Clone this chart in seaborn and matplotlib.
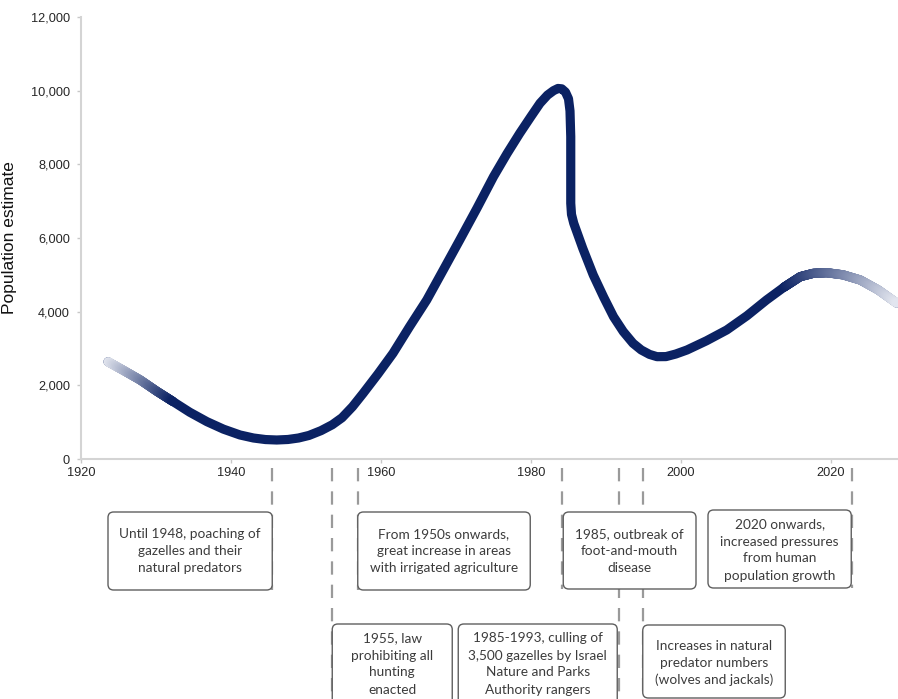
import numpy as np
import matplotlib
matplotlib.use("Agg")
import matplotlib.pyplot as plt
from matplotlib.collections import LineCollection
from matplotlib.colors import to_rgb
from matplotlib.patches import FancyBboxPatch
from matplotlib.ticker import FuncFormatter
import seaborn as sns

# ─── data ─────────────────────────────────────────────────────────────────────
years = [1923.6, 1925.8, 1927.9, 1930.1, 1932.3, 1934.5, 1936.8, 1939.0,
         1941.2, 1943.0, 1944.6, 1946.1, 1947.6, 1949.0, 1950.4, 1952.0,
         1953.5, 1954.8, 1956.2, 1957.6, 1959.6, 1961.6, 1963.8, 1966.1,
         1968.3, 1970.5, 1972.8, 1975.0, 1976.8, 1978.5, 1980.0, 1981.2,
         1982.2, 1983.0, 1983.6, 1984.1, 1984.6, 1985.0, 1985.2, 1985.3,
         1985.3, 1985.4, 1985.7, 1986.9, 1988.3, 1989.7, 1991.0, 1992.3,
         1993.6, 1994.7, 1995.8, 1996.8, 1998.0, 1999.3, 2000.8, 2003.4,
         2006.1, 2008.8, 2011.4, 2013.7, 2015.9, 2017.6, 2019.4, 2021.6,
         2023.9, 2026.3, 2028.8]
population = [2640, 2390, 2145, 1840, 1556, 1270, 1013, 810,
              652, 570, 528, 516, 530, 570, 640, 770,
              930, 1120, 1420, 1778, 2310, 2870, 3590, 4317,
              5130, 5946, 6810, 7665, 8290, 8843, 9300, 9658,
              9880, 10000, 10060, 10050, 9960, 9780, 9450, 8751,
              6943, 6640, 6400, 5720, 4996, 4390, 3864, 3460,
              3142, 2960, 2840, 2778, 2780, 2850, 2960, 3210,
              3503, 3890, 4317, 4660, 4950, 5040, 5059, 5000,
              4860, 4590, 4228]

x_ticks = [1920, 1940, 1960, 1980, 2000, 2020]
y_ticks = [0, 2000, 4000, 6000, 8000, 10000, 12000]

note_texts = [
    "Until 1948, poaching of\ngazelles and their\nnatural predators",
    "From 1950s onwards,\ngreat increase in areas\nwith irrigated agriculture",
    "1985, outbreak of\nfoot-and-mouth\ndisease",
    "2020 onwards,\nincreased pressures\nfrom human\npopulation growth",
    "1955, law\nprohibiting all\nhunting\nenacted",
    "1985-1993, culling of\n3,500 gazelles by Israel\nNature and Parks\nAuthority rangers",
    "Increases in natural\npredator numbers\n(wolves and jackals)",
]

# ─── layout (annotation boxes: x in years, y in px below the x axis) ─────────
note_boxes = [
    (1923.6, 1945.5, 53, 131),
    (1956.9, 1979.9, 53, 131),
    (1984.3, 2002.0, 53, 130),
    (2003.6, 2022.7, 51, 129),
    (1953.5, 1969.5, 165, 252),
    (1970.3, 1991.5, 165, 252),
    (1994.9, 2013.9, 166, 239),
]
note_centre = [92, 92, 92, 91, 205, 205, 204]
guide_x = [1945.5, 1953.5, 1956.9, 1984.1, 1991.8, 1994.9, 2022.8]
guide_end = [131, 240, 131, 130, 240, 240, 129]

NAVY = "#0b2263"
PALE = "#e3e6ef"
LW = 6.6
W, H = 898, 699
L_PX, R_PX, TOP_PX, BOT_PX = 81, 898, 17, 459

sns.set_style("white")
plt.rcParams["font.family"] = ["Liberation Sans", "DejaVu Sans"]

fig = plt.figure(figsize=(W / 100, H / 100), dpi=100)
ax = fig.add_axes([L_PX / W, 1 - BOT_PX / H, (R_PX - L_PX) / W,
                   (BOT_PX - TOP_PX) / H])

sns.lineplot(x=years, y=population, sort=False, estimator=None, ax=ax,
             color=NAVY, lw=LW, solid_capstyle="round",
             solid_joinstyle="round", zorder=3)


def fade(ax, xs, ys, c_from, c_to, n=30):
    """Overlay a colour gradient along a polyline."""
    xs, ys = np.asarray(xs, float), np.asarray(ys, float)
    sx, sy = 7.5, 36.83 / 1000.0          # px per data unit
    seg_len = np.hypot(np.diff(xs) * sx, np.diff(ys) * sy)
    total = seg_len.sum()
    c0, c1 = np.array(to_rgb(c_from)), np.array(to_rgb(c_to))
    segs, cols, run = [], [], 0.0
    for i in range(len(xs) - 1):
        t = np.linspace(0, 1, n + 1)
        px = xs[i] + t * (xs[i + 1] - xs[i])
        py = ys[i] + t * (ys[i + 1] - ys[i])
        for j in range(n):
            segs.append([(px[j], py[j]), (px[j + 1], py[j + 1])])
            f = (run + seg_len[i] * (j + 0.5) / n) / total
            cols.append(c0 + (c1 - c0) * f)
        run += seg_len[i]
    lc = LineCollection(segs, colors=cols, linewidths=LW, capstyle="round",
                        joinstyle="round", zorder=4)
    ax.add_collection(lc)


fade(ax, years[:5], population[:5], PALE, NAVY)
fade(ax, years[59:], population[59:], NAVY, PALE)

ax.set_xlim(1920, 1920 + (R_PX - L_PX) / 7.5)
ax.set_ylim(0, 12000)
ax.set_xticks(x_ticks)
ax.set_yticks(y_ticks)
ax.yaxis.set_major_formatter(FuncFormatter(lambda v, p: f"{int(v):,}"))
ax.set_ylabel("Population estimate", fontsize=12.5, color="#111111",
              labelpad=10)
ax.set_xlabel("")
for s in ["top", "right"]:
    ax.spines[s].set_visible(False)
for s in ["left", "bottom"]:
    ax.spines[s].set_color("#d4d4d4")
    ax.spines[s].set_linewidth(1.5)
ax.tick_params(axis="both", which="major", length=3, width=1,
               color="#c8c8c8", labelsize=9.2, labelcolor="#262626",
               direction="out", left=True, bottom=True)
ax.tick_params(axis="y", pad=5)
ax.tick_params(axis="x", pad=3)

# ─── annotation strip under the axis ──────────────────────────────────────────
axb = fig.add_axes([L_PX / W, 0, (R_PX - L_PX) / W, (H - BOT_PX) / H])
axb.set_xlim(ax.get_xlim())
axb.set_ylim(H - BOT_PX, 0)
axb.axis("off")
axb.patch.set_alpha(0)

for gx, ge in zip(guide_x, guide_end):
    axb.plot([gx, gx], [9, ge], color="#9a9a9a", lw=1.6,
             dashes=(6, 4.5), zorder=1, clip_on=False)

for txt, (x0, x1, y0, y1), cy in zip(note_texts, note_boxes, note_centre):
    box = FancyBboxPatch((x0, y0), x1 - x0, y1 - y0,
                         boxstyle="round,pad=0,rounding_size=0.75",
                         mutation_aspect=7.5, facecolor="white",
                         edgecolor="#5f5f5f", lw=1.0, zorder=2,
                         clip_on=False)
    axb.add_patch(box)
    axb.text((x0 + x1) / 2, cy, txt, ha="center", va="center",
             fontsize=9.8, family=["Lato", "DejaVu Sans"], color="#3c3c3c",
             linespacing=1.5, zorder=3)

fig.savefig("out.png", dpi=100)
